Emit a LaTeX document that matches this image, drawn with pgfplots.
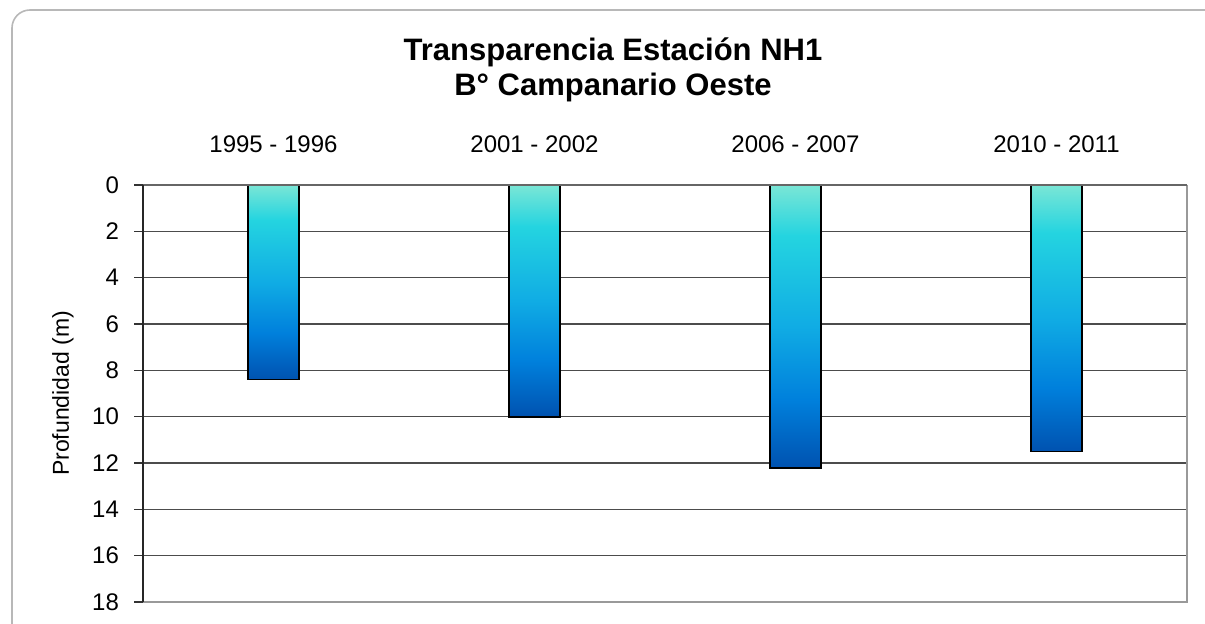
\documentclass[border=0pt]{standalone}
\usepackage{pgfplots}
\pgfplotsset{compat=1.18}
\usepackage{fontspec}
\setmainfont{Liberation Sans}

\definecolor{cA}{HTML}{7AE6D6}
\definecolor{cB}{HTML}{24D4E0}
\definecolor{cC}{HTML}{10ACE4}
\definecolor{cD}{HTML}{0080DC}
\definecolor{cE}{HTML}{0052B0}
\pgfdeclareverticalshading{barshade}{100bp}{color(0bp)=(cE); color(25bp)=(cE); color(37bp)=(cD); color(50bp)=(cC); color(66bp)=(cB); color(75bp)=(cA); color(100bp)=(cA)}

\begin{document}
\begin{tikzpicture}
\useasboundingbox (0,0) rectangle (602.5pt,312pt);
\begin{scope}
  \clip (0,0) rectangle (602.5pt,312pt);
  \draw[black!28, line width=0.8pt, rounded corners=9pt] (6pt,-10pt) rectangle (612pt,307pt);
\end{scope}

\node[align=center, font=\bfseries\fontsize{15.5}{17.5}\selectfont] at (306.5pt,277pt)
  {Transparencia Estación NH1\\B° Campanario Oeste};

\begin{axis}[
    at={(71.5pt,11pt)}, anchor=south west,
    width=522pt, height=208.5pt, scale only axis,
    clip=false,
    xmin=-0.5, xmax=3.5,
    ymin=0, ymax=18, y dir=reverse,
    ytick={0,2,...,18},
    ytick pos=left,
    xtick={0,1,2,3},
    xticklabels={1995 - 1996, 2001 - 2002, 2006 - 2007, 2010 - 2011},
    xticklabel pos=upper,
    x tick style={draw=none},
    xticklabel style={yshift=8pt},
    y tick style={black!80, line width=0.7pt},
    tick align=outside,
    major tick length=4.5pt,
    yticklabel style={xshift=-4pt},
    tick label style={font=\fontsize{12}{14}\selectfont},
    /pgf/number format/assume math mode=true,
    ymajorgrids,
    grid style={black!70, line width=0.6pt},
    axis line style={draw=none},
    ylabel={Profundidad (m)},
    ylabel style={at={(axis description cs:-0.0766,0.5)}, anchor=center, font=\fontsize{11.5}{13}\selectfont},
]
% one plot per bar, so that each bar gets its own gradient
\addplot[ybar, bar width=25.5pt, draw=black, line width=0.9pt, shading=barshade]
  coordinates {(0,8.4)};
\addplot[ybar, bar width=25.5pt, draw=black, line width=0.9pt, shading=barshade]
  coordinates {(1,10.0)};
\addplot[ybar, bar width=25.5pt, draw=black, line width=0.9pt, shading=barshade]
  coordinates {(2,12.2)};
\addplot[ybar, bar width=25.5pt, draw=black, line width=0.9pt, shading=barshade]
  coordinates {(3,11.5)};

\draw[black!40, line width=0.8pt] (axis cs:3.5,0) -- (axis cs:3.5,18) -- (axis cs:-0.5,18);
\draw[black!60, line width=1.1pt] (axis cs:-0.5,0) -- (axis cs:3.5,0);
\draw[black!85, line width=1pt] (axis cs:-0.5,0) -- (axis cs:-0.5,18);
\end{axis}
\end{tikzpicture}
\end{document}
